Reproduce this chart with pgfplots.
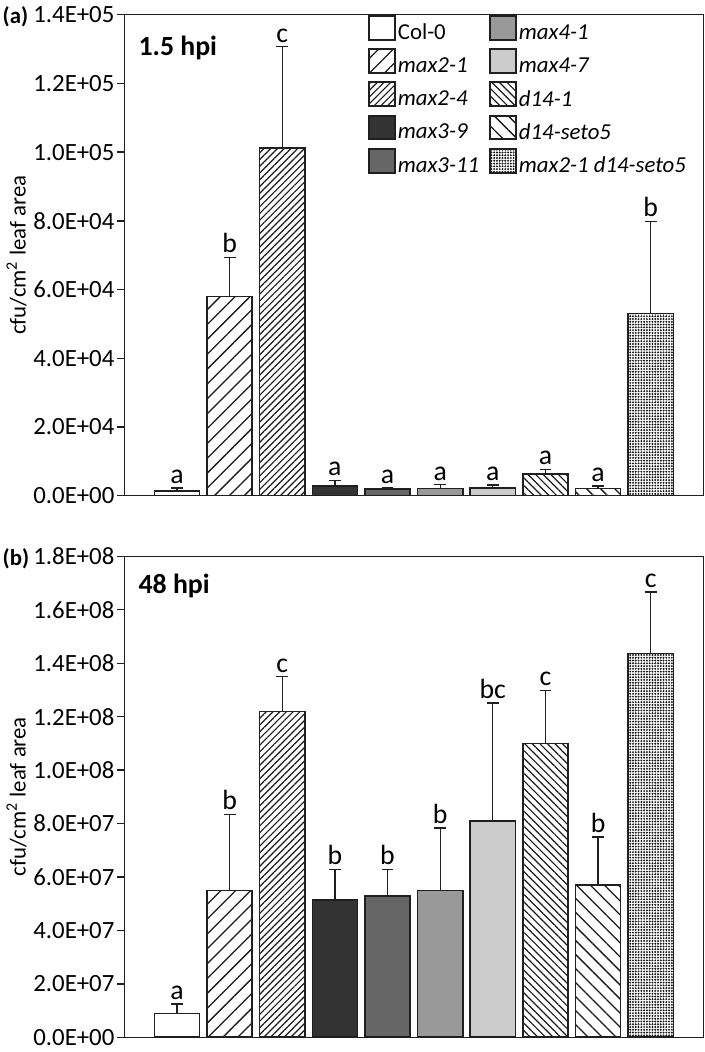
\documentclass[border=0pt]{standalone}
\usepackage{fontspec}
\setmainfont{Carlito}
\usepackage{pgfplots}
\pgfplotsset{compat=1.18}
\usetikzlibrary{patterns.meta}
\newcommand{\fs}[1]{\fontsize{#1}{#1}\selectfont}

\pgfplotsset{
  mybar/.style={ybar, bar width=22.75pt, bar shift=0pt, draw=black!88, line width=0.8pt,
    pattern color=black!90,
    legend image code/.code={\draw[##1,/tikz/.cd,line width=0.95pt] (0pt,-3.2pt) rectangle (13.5pt,8.8pt);},
    error bars/y dir=plus, error bars/y explicit, error bars/error mark=-,
    error bars/error bar style={line width=0.65pt, draw=black!88},
    error bars/error mark options={rotate=90, line width=0.65pt, mark size=3pt, draw=black!88}},
  letters/.style={draw=none, mark=none, forget plot, nodes near coords,
    point meta=explicit symbolic,
    nodes near coords style={font=\fs{14}, anchor=south, inner sep=2pt, text=black}},
  panel/.style={scale only axis, width=292pt, height=242.5pt,
    xmin=-1, xmax=10, xtick=\empty, ymin=0,
    ytick pos=left, tick align=outside, major tick length=3.8pt,
    axis line style={black!88, line width=0.7pt},
    major tick style={black!88, line width=0.7pt},
    yticklabel style={font=\fs{12.5}, inner xsep=1pt},
    scaled y ticks=false, clip=false,
    ylabel={cfu/cm\textsuperscript{2} leaf area},
    ylabel style={at={(axis description cs:-0.186,0.5)}, anchor=center, font=\fs{11.5}}},
  p21/.style={pattern={Lines[angle=45,distance=5.3pt,line width=0.65pt]}},
  p24/.style={pattern={Lines[angle=45,distance=2.4pt,line width=0.6pt]}},
  d141/.style={pattern={Lines[angle=-45,distance=2.7pt,line width=0.6pt]}},
  dseto/.style={pattern={Lines[angle=-45,distance=5pt,line width=0.65pt]}},
  pdots/.style={pattern={Dots[distance=1.4pt,radius=0.55pt]}},
}

\begin{document}
\begin{tikzpicture}
% ---------------- panel (a) ----------------
\begin{axis}[panel, name=A, at={(0,0)}, anchor=north west,
  ymax=140000, ytick={0,20000,40000,60000,80000,100000,120000,140000},
  yticklabels={0.0E+00,2.0E+04,4.0E+04,6.0E+04,8.0E+04,1.0E+05,1.2E+05,1.4E+05},
  legend columns=2, legend cell align=left,
  legend style={at={(axis description cs:0.4195,1.0)}, anchor=north west,
    draw=none, fill=none, inner sep=0pt, font=\fs{11.5}, row sep=2pt,
    nodes={inner sep=0.8pt},
    /tikz/every even column/.append style={column sep=4pt}},
]
\addplot[mybar, fill=white] coordinates {(0,1350) +- (0,870)};
\addplot[mybar, fill=black!40] coordinates {(5,2100) +- (0,1070)};
\addplot[mybar, p21] coordinates {(1,58000) +- (0,11400)};
\addplot[mybar, fill=black!20] coordinates {(6,2220) +- (0,860)};
\addplot[mybar, p24] coordinates {(2,101200) +- (0,29500)};
\addplot[mybar, d141] coordinates {(7,6340) +- (0,1350)};
\addplot[mybar, fill=black!80] coordinates {(3,2800) +- (0,1600)};
\addplot[mybar, dseto] coordinates {(8,2100) +- (0,700)};
\addplot[mybar, fill=black!60] coordinates {(4,1930) +- (0,370)};
\addplot[mybar, pdots] coordinates {(9,53000) +- (0,26800)};
\legend{Col-0, \textit{max4-1}, \textit{max2-1}, \textit{max4-7}, \textit{max2-4}, \textit{d14-1}, \textit{max3-9}, \textit{d14-seto5}, \textit{max3-11}, \textit{max2-1 d14-seto5}}
\addplot[letters] table[x=x, y=y, meta=lab] {
x y lab
0 2220 a
1 69400 b
2 130700 c
3 4400 a
4 2300 a
5 3170 a
6 3080 a
7 7690 a
8 2800 a
9 79800 b
};
\node[anchor=base west, font=\bfseries\fs{14}, inner sep=0pt, xshift=7pt, yshift=-20.4pt] at (rel axis cs:0,1) {1.5 hpi};
\node[anchor=base west, font=\bfseries\fs{11.5}, inner sep=0pt, xshift=-61.5pt, yshift=-4.6pt] at (rel axis cs:0,1) {(a)};
\end{axis}
% ---------------- panel (b) ----------------
\begin{axis}[panel, name=B, at={(0,-273.1pt)}, anchor=north west,
  ymax=1.8e8, ytick={0,2e7,4e7,6e7,8e7,1e8,1.2e8,1.4e8,1.6e8,1.8e8},
  yticklabels={0.0E+00,2.0E+07,4.0E+07,6.0E+07,8.0E+07,1.0E+08,1.2E+08,1.4E+08,1.6E+08,1.8E+08},
]
\addplot[mybar, fill=white] coordinates {(0,8.96e6) +- (0,3.44e6)};
\addplot[mybar, p21] coordinates {(1,5.49e7) +- (0,2.85e7)};
\addplot[mybar, p24] coordinates {(2,1.22e8) +- (0,1.29e7)};
\addplot[mybar, fill=black!80] coordinates {(3,5.13e7) +- (0,1.15e7)};
\addplot[mybar, fill=black!60] coordinates {(4,5.29e7) +- (0,0.99e7)};
\addplot[mybar, fill=black!40] coordinates {(5,5.49e7) +- (0,2.34e7)};
\addplot[mybar, fill=black!20] coordinates {(6,8.09e7) +- (0,4.42e7)};
\addplot[mybar, d141] coordinates {(7,1.099e8) +- (0,2.0e7)};
\addplot[mybar, dseto] coordinates {(8,5.71e7) +- (0,1.79e7)};
\addplot[mybar, pdots] coordinates {(9,1.436e8) +- (0,2.31e7)};
\addplot[letters] table[x=x, y=y, meta=lab] {
x y lab
0 1.24e7 a
1 8.34e7 b
2 1.349e8 c
3 6.28e7 b
4 6.28e7 b
5 7.83e7 b
6 1.251e8 bc
7 1.299e8 c
8 7.5e7 b
9 1.667e8 c
};
\node[anchor=base west, font=\bfseries\fs{14}, inner sep=0pt, xshift=7pt, yshift=-18.7pt] at (rel axis cs:0,1) {48 hpi};
\node[anchor=base west, font=\bfseries\fs{11.5}, inner sep=0pt, xshift=-61.5pt, yshift=-4.8pt] at (rel axis cs:0,1) {(b)};
\end{axis}
\end{tikzpicture}
\end{document}
